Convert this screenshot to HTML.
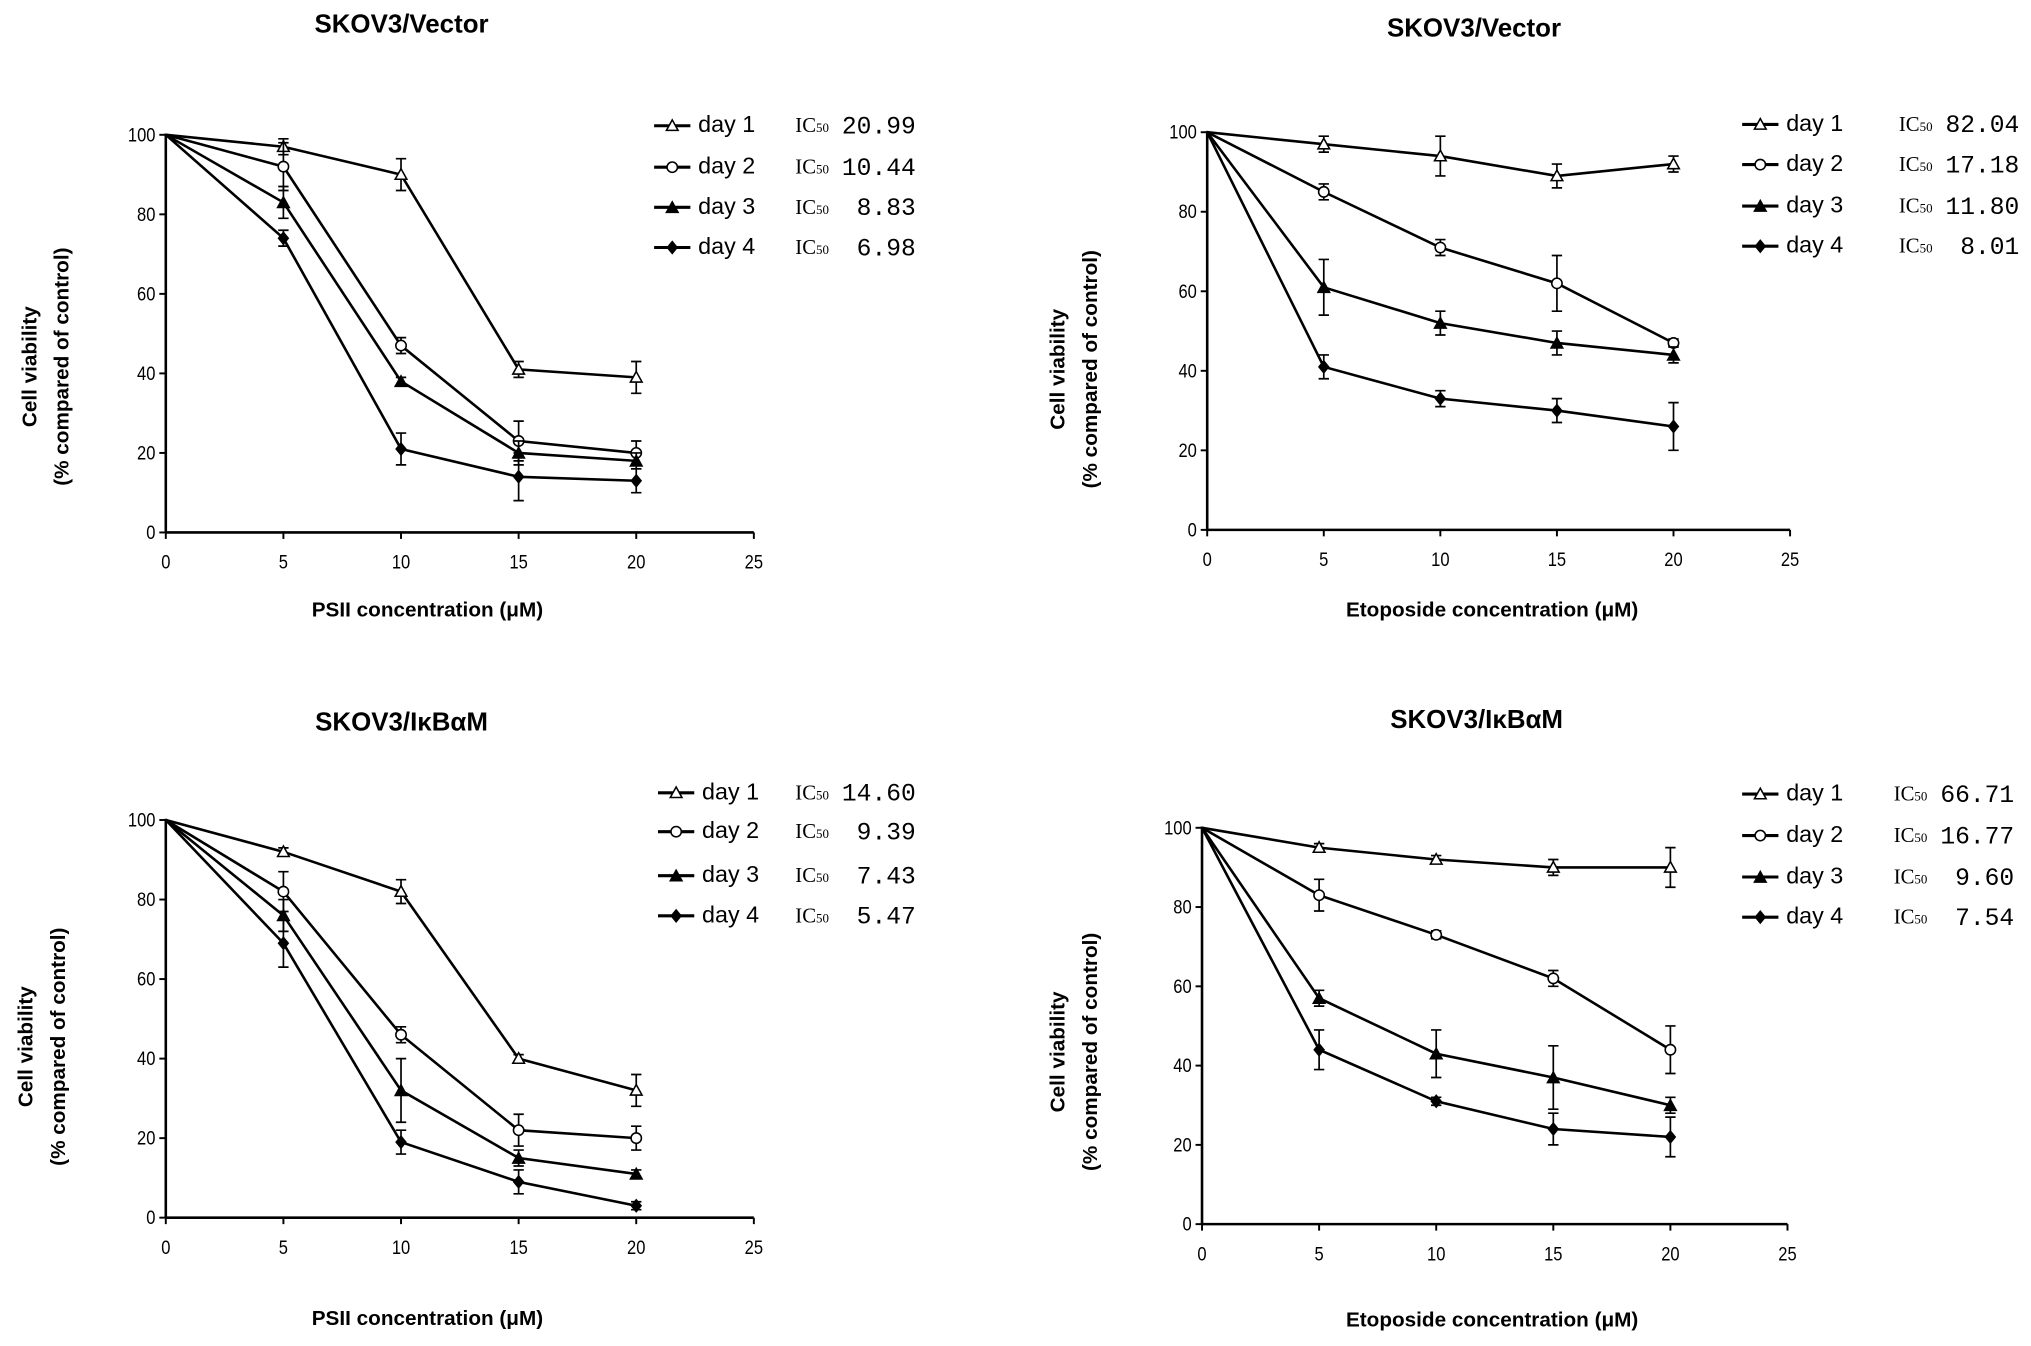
<!DOCTYPE html>
<html><head><meta charset="utf-8"><style>
html,body{margin:0;padding:0;background:#fff}
svg{display:block}
.tick{font-family:"Liberation Sans",sans-serif;font-size:15px}
.title{font-family:"Liberation Sans",sans-serif;font-size:20px;font-weight:bold}
.axl{font-family:"Liberation Sans",sans-serif;font-size:16px;font-weight:bold}
.leg{font-family:"Liberation Sans",sans-serif;font-size:18px}
.ic{font-family:"Liberation Serif",serif;font-size:16px}
.icv{font-family:"Liberation Mono",monospace;font-size:19px}
</style></head><body>
<svg id="fig" width="2031" height="1346" viewBox="0 0 1568 1039" xmlns="http://www.w3.org/2000/svg"></svg>
<script>
const xCats = [0, 5, 10, 15, 20];
const xTicks = [0, 5, 10, 15, 20, 25];
const yTicks = [0, 20, 40, 60, 80, 100];
const dayLabels = ["day 1", "day 2", "day 3", "day 4"];
// Panel A: PSII, SKOV3/Vector
const aD1 = [100, 97, 90, 41, 39];
const aD2 = [100, 92, 47, 23, 20];
const aD3 = [100, 83, 38, 20, 18];
const aD4 = [100, 74, 21, 14, 13];
const aE1 = [0, 2, 4, 2, 4];
const aE2 = [0, 6, 2, 5, 3];
const aE3 = [0, 4, 1, 3, 2];
const aE4 = [0, 2, 4, 6, 3];
const aIC = ["20.99", "10.44", " 8.83", " 6.98"];
// Panel B: Etoposide, SKOV3/Vector
const bD1 = [100, 97, 94, 89, 92];
const bD2 = [100, 85, 71, 62, 47];
const bD3 = [100, 61, 52, 47, 44];
const bD4 = [100, 41, 33, 30, 26];
const bE1 = [0, 2, 5, 3, 2];
const bE2 = [0, 2, 2, 7, 1];
const bE3 = [0, 7, 3, 3, 2];
const bE4 = [0, 3, 2, 3, 6];
const bIC = ["82.04", "17.18", "11.80", " 8.01"];
// Panel C: PSII, SKOV3/IkBaM
const cD1 = [100, 92, 82, 40, 32];
const cD2 = [100, 82, 46, 22, 20];
const cD3 = [100, 76, 32, 15, 11];
const cD4 = [100, 69, 19, 9, 3];
const cE1 = [0, 1, 3, 1, 4];
const cE2 = [0, 5, 2, 4, 3];
const cE3 = [0, 4, 8, 2, 1];
const cE4 = [0, 6, 3, 3, 1];
const cIC = ["14.60", " 9.39", " 7.43", " 5.47"];
// Panel D: Etoposide, SKOV3/IkBaM
const dD1 = [100, 95, 92, 90, 90];
const dD2 = [100, 83, 73, 62, 44];
const dD3 = [100, 57, 43, 37, 30];
const dD4 = [100, 44, 31, 24, 22];
const dE1 = [0, 1, 1, 2, 5];
const dE2 = [0, 4, 1, 2, 6];
const dE3 = [0, 2, 6, 8, 2];
const dE4 = [0, 5, 1, 4, 5];
const dIC = ["66.71", "16.77", " 9.60", " 7.54"];

const NS = "http://www.w3.org/2000/svg";
const svg = document.getElementById("fig");
function mk(tag, attrs, parent, text) {
  const e = document.createElementNS(NS, tag);
  for (const k in attrs) e.setAttribute(k, attrs[k]);
  if (text !== undefined) e.textContent = text;
  (parent || svg).appendChild(e);
  return e;
}
function marker(g, kind, x, y) {
  const s = 4.5;
  let m;
  if (kind === 0) m = mk("polygon", {points: `${x},${y-s} ${x-s},${y+s*0.8} ${x+s},${y+s*0.8}`, fill: "#fff", stroke: "#000", "stroke-width": 1.2}, g);
  else if (kind === 1) m = mk("circle", {cx: x, cy: y, r: 4, fill: "#fff", stroke: "#000", "stroke-width": 1.2}, g);
  else if (kind === 2) m = mk("polygon", {points: `${x},${y-s-1} ${x-s-1},${y+s} ${x+s+1},${y+s}`, fill: "#000"}, g);
  else m = mk("polygon", {points: `${x},${y-s-1} ${x-s},${y} ${x},${y+s+1} ${x+s},${y}`, fill: "#000"}, g);
  
  
  return m;
}
function panel(p) {
  const g = mk("g", {});
  
  
  const X = v => p.x0 + (v / 25) * (p.x25 - p.x0);
  const Y = v => p.y0 - (v / 100) * (p.y0 - p.y100);
  const t = mk("text", {x: p.tx, y: p.ty, "text-anchor": "middle", class: "title"}, g, p.title);
  
  
  const ya = mk("line", {x1: p.x0, y1: Y(100) - 1, x2: p.x0, y2: p.y0, stroke: "#000", "stroke-width": 2}, g);
  
  
  const xa = mk("line", {x1: p.x0, y1: p.y0, x2: p.x25, y2: p.y0, stroke: "#000", "stroke-width": 2}, g);
  
  
  yTicks.forEach(v => {
    mk("line", {x1: p.x0 - 5, y1: Y(v), x2: p.x0, y2: Y(v), stroke: "#000", "stroke-width": 1.5}, g);
    const l = mk("text", {x: p.x0 - 8, y: Y(v) + 5, "text-anchor": "end", class: "tick", transform: `translate(${(p.x0-8)*0.15},0) scale(0.85,1)`}, g, String(v));
    
    
  });
  xTicks.forEach(v => {
    mk("line", {x1: X(v), y1: p.y0, x2: X(v), y2: p.y0 + 5, stroke: "#000", "stroke-width": 1.5}, g);
    const l = mk("text", {x: X(v), y: p.y0 + 28, "text-anchor": "middle", class: "tick", transform: `translate(${X(v)*0.15},0) scale(0.85,1)`}, g, String(v));
    
    
  });
  const yl = mk("text", {transform: `translate(${p.ylx},${p.ylc}) rotate(-90)`, "text-anchor": "middle", class: "axl"}, g);
  
  
  mk("tspan", {x: 0, y: 0}, yl, "Cell viability");
  mk("tspan", {x: 0, y: 25}, yl, "(% compared of control)");
  const xl = mk("text", {x: p.xlx, y: p.xly, "text-anchor": "middle", class: "axl"}, g, p.xlabel);
  
  
  p.series.forEach((vals, si) => {
    const sg = mk("g", {}, g);
    
    
    const pts = xCats.map((c, i) => `${X(c)},${Y(vals[i])}`).join(" ");
    mk("polyline", {points: pts, fill: "none", stroke: "#000", "stroke-width": 2}, sg);
    xCats.forEach((c, i) => {
      const e = p.errs[si][i];
      if (e > 0) {
        const x = X(c);
        const eb = mk("path", {d: `M${x},${Y(vals[i]+e)}V${Y(vals[i]-e)}M${x-4},${Y(vals[i]+e)}H${x+4}M${x-4},${Y(vals[i]-e)}H${x+4}`, stroke: "#000", "stroke-width": 1.3, fill: "none"}, sg);
        
        
      }
      if (i > 0) marker(sg, si, X(c), Y(vals[i]));
    });
  });
  p.legY.forEach((ly, i) => {
    const lg = mk("g", {}, g);
    
    
    mk("line", {x1: p.lx, y1: ly, x2: p.lx + 28, y2: ly, stroke: "#000", "stroke-width": 2.4}, lg);
    marker(lg, i, p.lx + 14, ly);
    mk("text", {x: p.lx + 34, y: ly + 5, class: "leg"}, lg, dayLabels[i]);
    const ic = mk("text", {x: p.icx, y: ly + 5, class: "ic"}, lg);
    ic.appendChild(document.createTextNode("IC"));
    mk("tspan", {"font-size": "10"}, ic, "50");
    mk("text", {x: p.icx + 93, y: ly + 6, "text-anchor": "end", class: "icv", "xml:space": "preserve"}, lg, p.ic[i]);
  });
}
panel({name: "panel-psii-vector", title: "SKOV3/Vector", tx: 310, ty: 25, x0: 128, x25: 582, y0: 411, y100: 104,
  ylx: 28, ylc: 283, xlx: 330, xly: 476, xlabel: "PSII  concentration (μM)",
  series: [aD1, aD2, aD3, aD4], errs: [aE1, aE2, aE3, aE4], legY: [97, 129, 160, 191], lx: 505, icx: 614, ic: aIC});
panel({name: "panel-etoposide-vector", title: "SKOV3/Vector", tx: 1138, ty: 28, x0: 932, x25: 1382, y0: 409, y100: 102,
  ylx: 822, ylc: 285, xlx: 1152, xly: 476, xlabel: "Etoposide concentration (μM)",
  series: [bD1, bD2, bD3, bD4], errs: [bE1, bE2, bE3, bE4], legY: [96, 127, 159, 190], lx: 1345, icx: 1466, ic: bIC});
panel({name: "panel-psii-ikbam", title: "SKOV3/IκBαM", tx: 310, ty: 564, x0: 128, x25: 582, y0: 940, y100: 633,
  ylx: 25, ylc: 808, xlx: 330, xly: 1023, xlabel: "PSII  concentration (μM)",
  series: [cD1, cD2, cD3, cD4], errs: [cE1, cE2, cE3, cE4], legY: [612, 642, 676, 707], lx: 508, icx: 614, ic: cIC});
panel({name: "panel-etoposide-ikbam", title: "SKOV3/IκBαM", tx: 1140, ty: 562, x0: 928, x25: 1380, y0: 945, y100: 639,
  ylx: 822, ylc: 812, xlx: 1152, xly: 1024, xlabel: "Etoposide concentration (μM)",
  series: [dD1, dD2, dD3, dD4], errs: [dE1, dE2, dE3, dE4], legY: [613, 645, 677, 708], lx: 1345, icx: 1462, ic: dIC});
</script>
</body></html>
